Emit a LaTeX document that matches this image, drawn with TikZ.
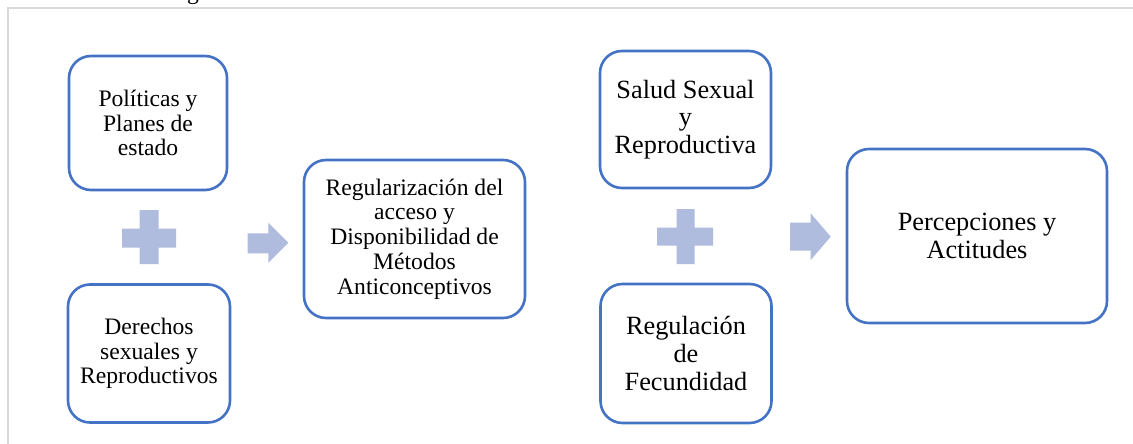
\documentclass[tikz,border=0pt]{standalone}
\usepackage{fontspec}
\setmainfont{Liberation Serif}
\definecolor{boxblue}{RGB}{68,114,196}
\definecolor{decofill}{RGB}{175,188,222}
\definecolor{framegray}{RGB}{217,217,217}
\tikzset{
  stepbox/.style={draw=boxblue, line width=2.6pt, rounded corners=22pt, fill=white,
    align=center, inner sep=0pt, text=black},
  smalltext/.style={font=\fontsize{23.6}{24.8}\selectfont},
  bigtext/.style={font=\fontsize{26.3}{27.6}\selectfont},
  deco/.style={fill=decofill, draw=none},
}
\begin{document}
\begin{tikzpicture}[x=1pt,y=-1pt]
\useasboundingbox (0,0) rectangle (1133,444);
\begin{scope}
\clip (0,0) rectangle (1133,444);
\fill[white] (0,0) rectangle (1133,444);
\node[anchor=base, font=\fontsize{23.6}{24.8}\selectfont] (cap) at (193,0) {g};
\draw[framegray, line width=2.2pt] (8.3,446) -- (8.3,8.3) -- (1135,8.3);

\node[stepbox, smalltext, minimum width=158pt, minimum height=134pt] (pol) at (148,123)
  {Políticas y\\Planes de\\estado};
\node[stepbox, smalltext, minimum width=162pt, minimum height=138pt] (der) at (149,353.5)
  {Derechos\\sexuales y\\Reproductivos};
\node[stepbox, smalltext, minimum width=221pt, minimum height=158pt] (reg) at (414.5,239)
  {Regularización del\\acceso y\\Disponibilidad de\\Métodos\\Anticonceptivos};
\node[stepbox, bigtext, minimum width=171pt, minimum height=137pt] (sal) at (685.5,119.5)
  {Salud Sexual\\y\\Reproductiva};
\node[stepbox, bigtext, minimum width=171pt, minimum height=139pt] (fec) at (686,353.5)
  {Regulación\\de\\Fecundidad};
\node[stepbox, bigtext, minimum width=260pt, minimum height=174pt] (per) at (977,236)
  {Percepciones y\\Actitudes};

% plus signs
\fill[deco] (139.5,210) -- (158.5,210) -- (158.5,228.5) -- (176,228.5) -- (176,247.5)
  -- (158.5,247.5) -- (158.5,264) -- (139.5,264) -- (139.5,247.5) -- (122,247.5)
  -- (122,228.5) -- (139.5,228.5) -- cycle;
\fill[deco] (676.5,209) -- (694.5,209) -- (694.5,227.5) -- (713,227.5) -- (713,245.5)
  -- (694.5,245.5) -- (694.5,264) -- (676.5,264) -- (676.5,245.5) -- (657,245.5)
  -- (657,227.5) -- (676.5,227.5) -- cycle;
% arrows
\fill[deco] (247.7,233.3) -- (268.3,233.3) -- (268.3,222.7) -- (288.3,242.7)
  -- (268.3,262.7) -- (268.3,253.3) -- (247.7,253.3) -- cycle;
\fill[deco] (790,222.7) -- (810.7,222.7) -- (810.7,213.3) -- (830.7,236.7)
  -- (810.7,260) -- (810.7,250.7) -- (790,250.7) -- cycle;
\end{scope}
\end{tikzpicture}
\end{document}
